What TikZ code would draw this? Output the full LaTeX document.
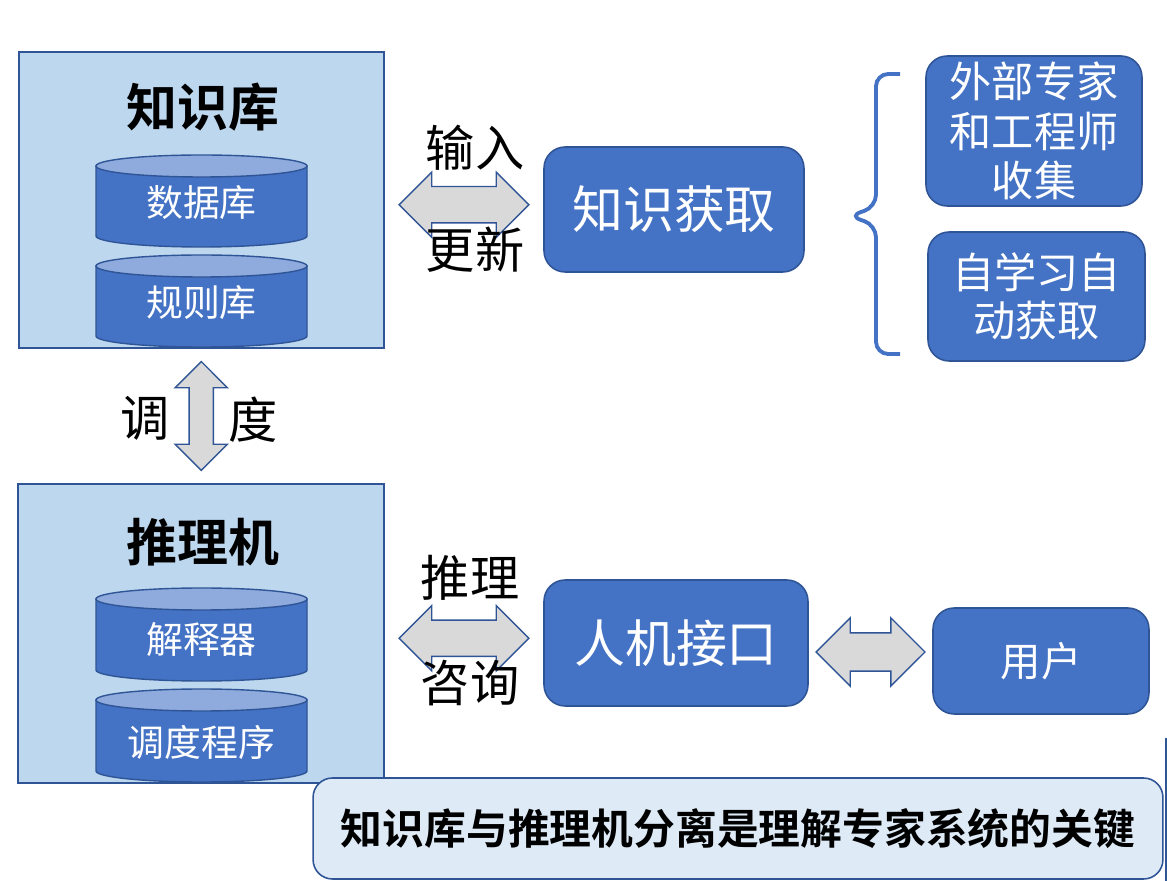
\documentclass[tikz,border=0pt]{standalone}
\usepackage{fontspec}
\setmainfont{Noto Sans CJK SC}[BoldFont={Noto Sans CJK SC Bold}]
\usetikzlibrary{arrows}
\usetikzlibrary{calc,shapes}
\definecolor{boxblue}{HTML}{4472C4}
\definecolor{edgeblue}{HTML}{2F5597}
\definecolor{paleblue}{HTML}{BDD7EE}
\definecolor{noteblue}{HTML}{DEEBF7}
\definecolor{drumtop}{HTML}{8FAADC}
\definecolor{arrowgray}{HTML}{D9D9D9}

\begin{document}
\begin{tikzpicture}[x=0.02cm,y=-0.02cm,
	panel/.style={draw=edgeblue,fill=paleblue,line width=0.9pt,inner sep=0},
	bluebox/.style={draw=edgeblue,fill=boxblue,line width=0.9pt,rounded corners=12pt,inner sep=0,text=white,align=center},
	dblarrow/.style={double arrow,draw=edgeblue,fill=arrowgray,line width=0.8pt,inner xsep=0,inner ysep=0.35cm,double arrow head extend=0.29cm},
	drumtext/.style={text=white,font=\fontsize{21}{24}\selectfont},
	label/.style={font=\fontsize{28}{32}\selectfont}]
				\useasboundingbox (0,0) rectangle (1167,881);
				% Panneaux
				\node [panel,minimum width=7.3cm,minimum height=5.92cm] (kb) at (201.5,200) {};
				\node [panel,minimum width=7.32cm,minimum height=5.98cm] (ie) at (201,633.5) {};
				\node [font=\bfseries\fontsize{29}{32}\selectfont] (kbtitle) at (203,107) {知识库};
				\node [font=\bfseries\fontsize{29}{32}\selectfont] (ietitle) at (203,542) {推理机};
				% Cylindres
				\foreach \tc/\bc in {166/236,266/336,599/670,700/771}{
					\draw [draw=edgeblue,fill=boxblue,line width=0.8pt] (96,\tc) -- (96,\bc) arc [start angle=180,end angle=0,x radius=105.5,y radius=11] -- (307,\tc) -- cycle;
					\draw [draw=edgeblue,fill=drumtop,line width=0.8pt] (201.5,\tc) ellipse [x radius=105.5,y radius=11];
				}
				\node [drumtext] (db) at (201.5,203) {数据库};
				\node [drumtext] (rules) at (201.5,303) {规则库};
				\node [drumtext] (interp) at (201.5,640) {解释器};
				\node [drumtext] (sched) at (201.5,742) {调度程序};
				% Boites
				\node [bluebox,minimum width=5.2cm,minimum height=2.5cm,font=\fontsize{29}{32}\selectfont] (acq) at (674,209.5) {知识获取};
				\node [bluebox,minimum width=4.32cm,minimum height=3cm,font=\fontsize{24}{28}\selectfont] (expert) at (1034,131) {外部专家\\和工程师\\收集};
				\node [bluebox,minimum width=4.34cm,minimum height=2.58cm,font=\fontsize{24}{27}\selectfont] (self) at (1036.5,296.5) {自学习自\\动获取};
				\node [bluebox,minimum width=5.28cm,minimum height=2.52cm,font=\fontsize{29}{32}\selectfont] (hmi) at (676,643) {人机接口};
				\node [bluebox,minimum width=4.32cm,minimum height=2.12cm,font=\fontsize{23}{26}\selectfont] (user) at (1041,661) {用户};
				% Flèches
				\node [dblarrow,minimum height=2.6cm] (a1) at ($(kb.east)!0.5!(acq.west)$) {};
				\node [dblarrow,minimum height=2.6cm] (a2) at ($(ie.east)!0.5!(hmi.west)$) {};
				\node [dblarrow,minimum height=2.18cm,inner ysep=0.37cm,double arrow head extend=0.3cm] (a3) at ($(hmi.east)!0.5!(user.west)$) {};
				\node [dblarrow,shape border rotate=90,minimum height=2.18cm,inner ysep=0,inner xsep=0.23cm,double arrow head extend=0.28cm] (a4) at ($(kb.south)!0.5!(ie.north)$) {};
				\node [label] (input) at (475,148) {输入};
				\node [label] (update) at (475,250) {更新};
				\node [label] (infer) at (470,578) {推理};
				\node [label] (consult) at (470,683) {咨询};
				\node [label] (tiao) at (145,418) {调};
				\node [label] (du) at (253,420) {度};
				% Accolade
				\draw [boxblue,line width=2.2pt,rounded corners=7pt] (900,74) -- (876,74) -- (876,207) -- (849,216) -- (876,225) -- (876,354) -- (900,354);
				% Note
				\draw [edgeblue,line width=0.6pt] (1166,738) -- (1166,881);
				\node [draw=edgeblue,fill=noteblue,line width=0.9pt,rounded corners=11pt,minimum width=17cm,minimum height=2.02cm,font=\bfseries\fontsize{23.8}{26}\selectfont] (note) at (738,828.5) {知识库与推理机分离是理解专家系统的关键};
				\end{tikzpicture}
\end{document}
